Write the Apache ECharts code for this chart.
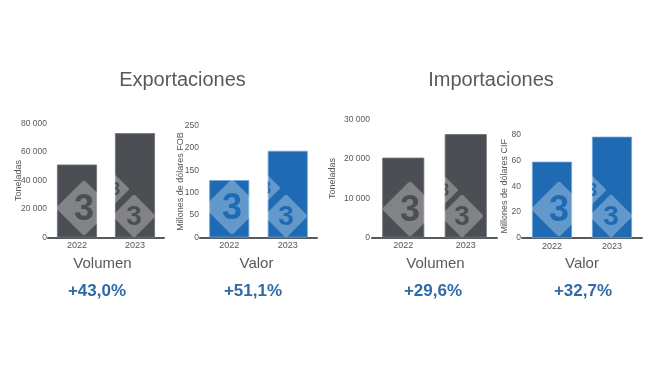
<!DOCTYPE html>
<html>
<head>
<meta charset="utf-8">
<script src="https://cdn.jsdelivr.net/npm/echarts@6/dist/echarts.min.js"></script>
<style>
html,body{margin:0;padding:0;background:#ffffff;}
#chart{width:650px;height:366px;}
</style>
</head>
<body>
<div id="chart"></div>
<script>
// ---- data ----
const categories = ['2022', '2023'];
const expVolumen = [51200, 73200];     // toneladas
const expValor = [128, 193.5];         // millones USD FOB
const impVolumen = [20300, 26300];     // toneladas
const impValor = [59, 78.3];           // millones USD CIF
const yMax = [80000, 250, 30000, 80];
const yInterval = [20000, 50, 10000, 20];
const yNames = ['Toneladas', 'Millones de dólares FOB', 'Toneladas', 'Millones de dólares CIF'];
const xNames = ['Volumen', 'Valor', 'Volumen', 'Valor'];
const growthLabels = ['+43,0%', '+51,1%', '+29,6%', '+32,7%'];
const groupTitles = ['Exportaciones', 'Importaciones'];

// ---- layout / style ----
const FONT = "'Liberation Sans', Arial, sans-serif";
const GRAY = '#4b4e53';
const BLUE = '#1f6bb3';
const seriesData = [expVolumen, expValor, impVolumen, impValor];
const barColors = [GRAY, BLUE, GRAY, BLUE];
const borderColors = ['#6d7075', '#6fa3d6', '#6d7075', '#6fa3d6'];
const grids = [
  {left: 48, top: 123.5, width: 116, height: 114},
  {left: 200, top: 125.5, width: 117, height: 112},
  {left: 372, top: 119.5, width: 125, height: 118},
  {left: 522, top: 134.5, width: 120, height: 103.5}
];
const nameGaps = [24.5, 15, 34.5, 12.5];
const labelMargins = [1, 1, 2, 1];
const barWidths = [40, 40, 42, 40];
const xNameCenters = [102.5, 256.5, 435.5, 582];
const growthCenters = [97, 253, 433, 583];
const titleCenters = [182.5, 491];

function fmt(v) {
  return String(v).replace(/\B(?=(\d{3})+(?!\d))/g, ' ');
}

const option = {
  backgroundColor: 'transparent',
  animation: false,
  grid: grids.map(g => Object.assign({containLabel: false}, g)),
  xAxis: grids.map((g, i) => ({
    type: 'category',
    gridIndex: i,
    data: categories,
    axisLine: {show: true, lineStyle: {color: '#555a60', width: 2}},
    axisTick: {show: false},
    axisLabel: {fontSize: 9, color: '#555', fontFamily: FONT, margin: 4}
  })),
  yAxis: grids.map((g, i) => ({
    type: 'value',
    gridIndex: i,
    min: 0,
    max: yMax[i],
    interval: yInterval[i],
    name: yNames[i],
    nameLocation: 'middle',
    nameGap: nameGaps[i],
    nameMoveOverlap: false,
    nameTextStyle: {fontSize: 9, color: '#555', fontFamily: FONT},
    axisLine: {show: false},
    axisTick: {show: false},
    splitLine: {show: false},
    axisLabel: {fontSize: 8.5, color: '#595959', fontFamily: FONT, margin: labelMargins[i], formatter: fmt}
  })),
  series: seriesData.map((d, i) => ({
    type: 'bar',
    xAxisIndex: i,
    yAxisIndex: i,
    data: d,
    barWidth: barWidths[i],
    itemStyle: {color: barColors[i], borderColor: borderColors[i], borderWidth: 0.8},
    z: 2
  })),
  graphic: []
};

// titles and text
groupTitles.forEach((t, i) => {
  option.graphic.push({
    type: 'text', x: titleCenters[i], y: 80.5, z: 50,
    style: {text: t, fill: '#595959', font: '20px ' + FONT, textAlign: 'center', textVerticalAlign: 'middle'}
  });
});
xNames.forEach((t, i) => {
  option.graphic.push({
    type: 'text', x: xNameCenters[i], y: 264.3, z: 50,
    style: {text: t, fill: '#595959', font: '15px ' + FONT, textAlign: 'center', textVerticalAlign: 'middle'}
  });
});
growthLabels.forEach((t, i) => {
  option.graphic.push({
    type: 'text', x: growthCenters[i], y: 291.7, z: 50,
    style: {text: t, fill: '#2f6aa5', font: 'bold 17px ' + FONT, textAlign: 'center', textVerticalAlign: 'middle'}
  });
});

// watermark logos (decoration), drawn onto an offscreen canvas and composited only onto the bars
function makeLogo(half, color) {
  const size = Math.ceil(half * 2) + 2;
  const cv = document.createElement('canvas');
  cv.width = size; cv.height = size;
  const ctx = cv.getContext('2d');
  const c = size / 2;
  const r = half * 0.1;
  ctx.beginPath();
  ctx.moveTo(c, c - half + r);
  ctx.lineTo(c + half - r, c);
  ctx.lineTo(c, c + half - r);
  ctx.lineTo(c - half + r, c);
  ctx.closePath();
  ctx.lineJoin = 'round';
  ctx.lineWidth = r * 2;
  ctx.strokeStyle = 'rgba(255,255,255,1)';
  ctx.fillStyle = 'rgba(255,255,255,1)';
  ctx.fill();
  ctx.stroke();
  const img = ctx.getImageData(0, 0, size, size);
  for (let k = 3; k < img.data.length; k += 4) img.data[k] = Math.round(img.data[k] * 0.3);
  ctx.putImageData(img, 0, 0);
  ctx.fillStyle = color;
  ctx.font = 'bold ' + Math.round(half * 1.35) + 'px ' + FONT;
  ctx.textAlign = 'center';
  ctx.textBaseline = 'middle';
  ctx.fillText('3', c, c + half * 0.06);
  return cv;
}
const marks = [
  [[84, 208, 27], [134, 216, 21], [115, 189, 14]],
  [[232, 207, 27], [286, 216, 21], [266, 188, 14]],
  [[410, 209, 27], [462, 216, 21], [444, 190, 14]],
  [[559, 209, 27], [611, 216, 21], [592, 190, 14]]
];
marks.forEach((list, p) => {
  list.forEach(m => {
    const cv = makeLogo(m[2], barColors[p]);
    option.graphic.push({
      type: 'image', x: m[0] - cv.width / 2, y: m[1] - cv.height / 2, z: 20, silent: true,
      style: {image: cv, width: cv.width, height: cv.height, blend: 'source-atop'}
    });
  });
});

const chart = echarts.init(document.getElementById('chart'), null, {renderer: 'canvas'});
chart.setOption(option);
</script>
</body>
</html>
